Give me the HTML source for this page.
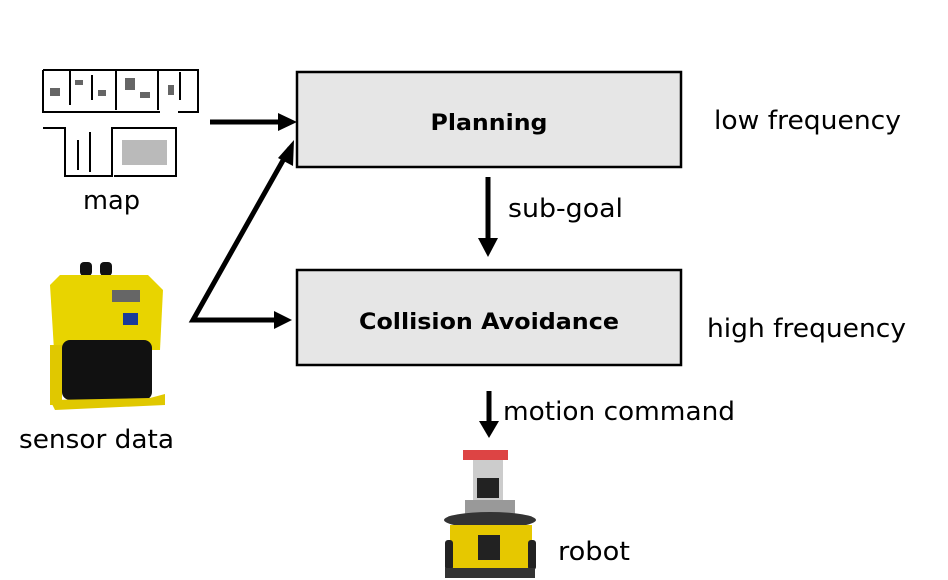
<!DOCTYPE html>
<html><head><style>html,body{margin:0;padding:0;background:#fff}svg{display:block}</style></head>
<body>
<svg width="948" height="580" viewBox="0 0 948 580" xmlns="http://www.w3.org/2000/svg" font-family="'DejaVu Sans', 'Liberation Sans', sans-serif">
<rect x="297" y="72" width="384" height="95" fill="#e6e6e6" stroke="#000" stroke-width="2.5"/>
<rect x="297" y="270" width="384" height="95" fill="#e6e6e6" stroke="#000" stroke-width="2.5"/>
<text x="489" y="130" text-anchor="middle" font-weight="bold" font-size="22" textLength="117" lengthAdjust="spacingAndGlyphs">Planning</text>
<text x="489" y="329" text-anchor="middle" font-weight="bold" font-size="22" textLength="260" lengthAdjust="spacingAndGlyphs">Collision Avoidance</text>
<g font-size="26" fill="#000">
<text x="714" y="129" textLength="187" lengthAdjust="spacingAndGlyphs">low frequency</text>
<text x="707" y="337" textLength="199" lengthAdjust="spacingAndGlyphs">high frequency</text>
<text x="508" y="217" textLength="115" lengthAdjust="spacingAndGlyphs">sub-goal</text>
<text x="503" y="420" textLength="232" lengthAdjust="spacingAndGlyphs">motion command</text>
<text x="83" y="209" textLength="57" lengthAdjust="spacingAndGlyphs">map</text>
<text x="19" y="448" textLength="155" lengthAdjust="spacingAndGlyphs">sensor data</text>
<text x="558" y="560" textLength="72" lengthAdjust="spacingAndGlyphs">robot</text>
</g>
<g stroke="#000" stroke-width="5" fill="none">
<line x1="210" y1="122" x2="280" y2="122"/>
<polyline points="290,148 193,320 276,320"/>
<line x1="488" y1="177" x2="488" y2="240"/>
<line x1="489" y1="391" x2="489" y2="424"/>
</g>
<g fill="#000">
<polygon points="297,122 278,113 278,131"/>
<polygon points="292,320 274,311 274,329"/>
<polygon points="294,140 278,158 293,166"/>
<polygon points="488,257 478,238 498,238"/>
<polygon points="489,438 479,421 499,421"/>
</g>
<!-- map -->
<g stroke="#000" stroke-width="2" fill="none">
<polyline points="43,70 198,70 198,112 178,112"/>
<polyline points="43,70 43,112 160,112"/>
<line x1="70" y1="70" x2="70" y2="105"/><line x1="116" y1="70" x2="116" y2="110"/><line x1="158" y1="70" x2="158" y2="110"/><line x1="92" y1="75" x2="92" y2="100"/><line x1="180" y1="72" x2="180" y2="100"/>
<polyline points="43,128 65,128 65,176 112,176 112,128 176,128 176,176 114,176"/>
<line x1="90" y1="132" x2="90" y2="172"/><line x1="78" y1="140" x2="78" y2="170"/>
</g>
<g fill="#000" opacity="0.6">
<rect x="75" y="80" width="8" height="5"/><rect x="125" y="78" width="10" height="12"/><rect x="98" y="90" width="8" height="6"/><rect x="168" y="85" width="6" height="10"/><rect x="140" y="92" width="10" height="6"/><rect x="50" y="88" width="10" height="8"/>
<rect x="122" y="140" width="45" height="25" opacity="0.45"/>
</g>
<!-- sensor -->
<rect x="80" y="262" width="12" height="14" rx="4" fill="#111"/><rect x="100" y="262" width="12" height="14" rx="4" fill="#111"/>
<polygon points="50,285 60,275 148,275 163,290 160,350 54,350" fill="#e8d400"/>
<rect x="112" y="290" width="28" height="12" fill="#666"/>
<rect x="123" y="313" width="15" height="12" fill="#1a3a9a"/>
<rect x="62" y="340" width="90" height="60" rx="8" fill="#111"/>
<rect x="50" y="345" width="12" height="60" fill="#e0c800"/>
<polygon points="50,400 150,398 165,394 165,405 55,410" fill="#e0c800"/>
<!-- robot -->
<rect x="463" y="450" width="45" height="10" fill="#d44"/>
<rect x="473" y="460" width="30" height="40" fill="#ccc"/>
<rect x="477" y="478" width="22" height="20" fill="#222"/>
<rect x="465" y="500" width="50" height="15" fill="#999"/>
<ellipse cx="490" cy="520" rx="46" ry="8" fill="#333"/>
<rect x="450" y="525" width="82" height="45" fill="#e6c800"/>
<rect x="478" y="535" width="22" height="25" fill="#222"/>
<rect x="445" y="540" width="8" height="30" rx="3" fill="#222"/><rect x="528" y="540" width="8" height="30" rx="3" fill="#222"/>
<rect x="445" y="568" width="90" height="10" fill="#333"/>
</svg>
</body></html>
